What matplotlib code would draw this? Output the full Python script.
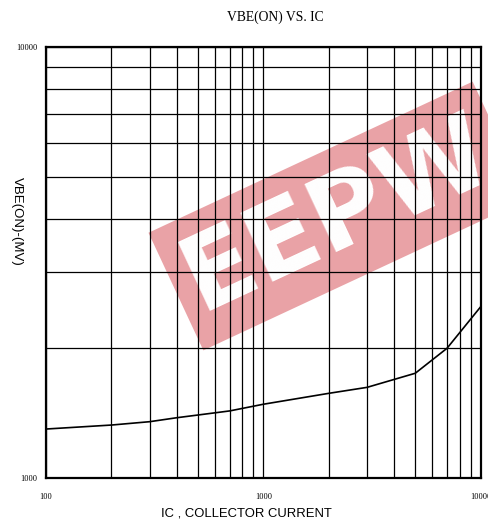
import matplotlib
matplotlib.use("Agg")
import matplotlib.pyplot as plt
import numpy as np

# IC (collector current) vs VBE(ON) in mV
ic = [100, 200, 300, 400, 500, 700, 1000, 2000, 3000, 5000, 7000, 10000]
vbe = [1299, 1327, 1351, 1380, 1400, 1431, 1483, 1572, 1623, 1750, 2000, 2497]

x_ticks = [100, 1000, 10000]
x_ticklabels = ["100", "1000", "10000"]
y_ticks = [1000, 10000]
y_ticklabels = ["1000", "10000"]

W, H = 489, 527
fig = plt.figure(figsize=(W / 100, H / 100), dpi=100)
ax = fig.add_axes([46 / W, (H - 478) / H, 434.7 / W, 431 / H])

ax.set_xscale("log")
ax.set_yscale("log")
ax.set_xlim(100, 10000)
ax.set_ylim(1000, 10000)

# watermark, kept under the grid lines
ax.text(338 / W, 1 - 216 / H, "EEPW", transform=fig.transFigure,
        color="white", fontsize=74, fontweight="bold", family="DejaVu Sans",
        rotation=25, ha="center", va="center", zorder=0.1, clip_on=False,
        bbox=dict(facecolor="#e9a2a6", edgecolor="none", pad=10))

minor_x = [m * d for d in (100, 1000) for m in range(2, 10)]
minor_y = [m * 1000 for m in range(2, 10)]
ax.set_xticks(x_ticks)
ax.set_xticks(minor_x, minor=True)
ax.set_yticks(y_ticks)
ax.set_yticks(minor_y, minor=True)
ax.set_xticklabels(x_ticklabels, family="Liberation Serif", fontsize=6)
ax.set_yticklabels(y_ticklabels, family="Liberation Serif", fontsize=6)
ax.xaxis.set_minor_formatter(plt.NullFormatter())
ax.yaxis.set_minor_formatter(plt.NullFormatter())
ax.tick_params(which="both", length=0)
ax.tick_params(axis="x", pad=11)
ax.tick_params(axis="y", pad=6)

ax.grid(which="both", color="black", linewidth=0.9, zorder=1)
ax.set_axisbelow(False)
ax.patch.set_alpha(0)
for s in ax.spines.values():
    s.set_linewidth(1.6)

ax.plot(ic, vbe, color="black", linewidth=1.2, zorder=3)

fig.text(275 / W, 1 - 17 / H, "VBE(ON) VS. IC", family="Liberation Serif",
         fontsize=9.8, ha="center", va="center")
fig.text(246 / W, 1 - 513 / H, "IC , COLLECTOR CURRENT", family="Liberation Sans",
         fontsize=9.4, ha="center", va="center")
fig.text(17 / W, 1 - 221 / H, "VBE(ON)-(MV)", family="Liberation Sans",
         fontsize=9.5, rotation=270, ha="center", va="center")

fig.savefig("out.png", dpi=100)
